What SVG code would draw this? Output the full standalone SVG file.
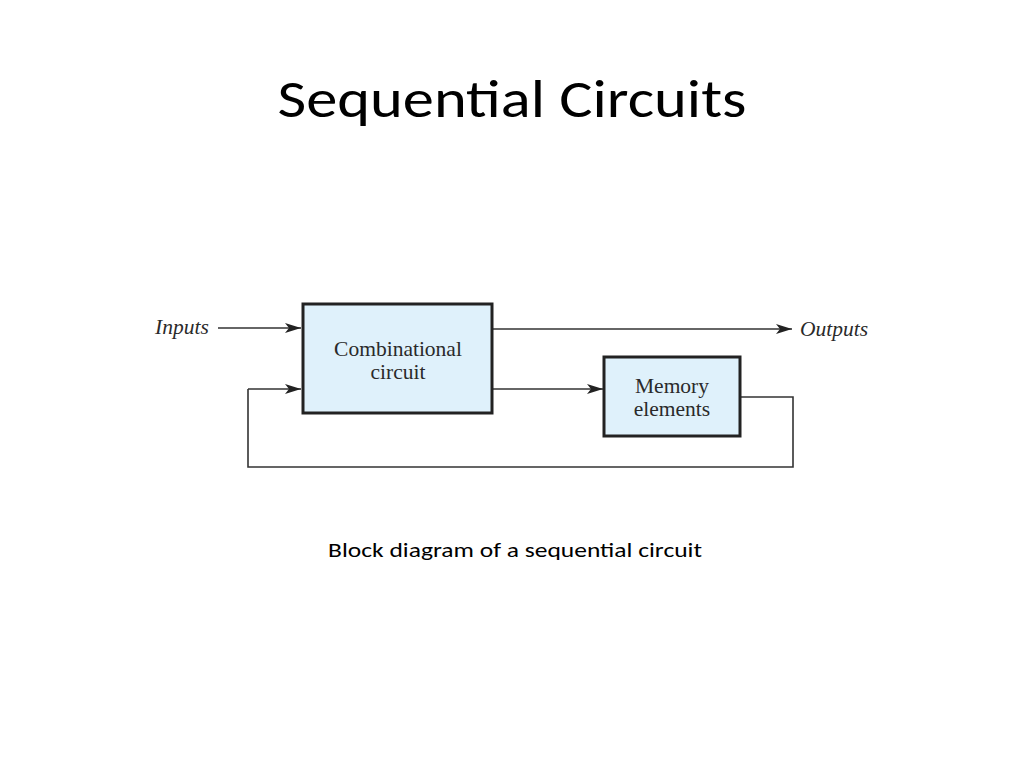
<svg xmlns="http://www.w3.org/2000/svg" width="1024" height="768" viewBox="0 0 1024 768">
<defs>
<style>
.box{fill:#dff1fb;stroke:#222;stroke-width:3}
.wire{fill:none;stroke:#333;stroke-width:1.6}
.lbl{font-family:"Liberation Serif","Times New Roman",serif;font-size:21.5px;fill:#2a2a2a;text-anchor:middle}
.io{font-family:"Liberation Serif","Times New Roman",serif;font-size:21.5px;font-style:italic;fill:#2a2a2a}
</style>
<marker id="arr" viewBox="0 0 16 10" refX="16" refY="5" markerWidth="16" markerHeight="10" markerUnits="userSpaceOnUse" orient="auto">
<path d="M0,0 L16,5 L0,10 L4,5 Z" fill="#222"/>
</marker>
</defs>
<rect width="1024" height="768" fill="#fff"/>
<text x="512" y="117" font-family="Carlito,'Liberation Sans',Arial,sans-serif" font-size="54" text-anchor="middle" textLength="469" lengthAdjust="spacingAndGlyphs" fill="#000">Sequential Circuits</text>
<g id="connectors">
<line class="wire" x1="218" y1="328" x2="301" y2="328" marker-end="url(#arr)"/>
<polyline class="wire" points="248,389 248,467 793,467 793,397 740,397"/>
<line class="wire" x1="248" y1="389" x2="301" y2="389" marker-end="url(#arr)"/>
<line class="wire" x1="492" y1="329" x2="792" y2="329" marker-end="url(#arr)"/>
<line class="wire" x1="492" y1="389" x2="603" y2="389" marker-end="url(#arr)"/>
</g>
<g id="inputs"><text class="io" x="155" y="334">Inputs</text></g>
<g id="outputs"><text class="io" x="800" y="336">Outputs</text></g>
<g id="combinational">
<rect class="box" x="303" y="304" width="189" height="109"/>
<text class="lbl" x="398" y="356">Combinational</text>
<text class="lbl" x="398" y="379">circuit</text>
</g>
<g id="memory">
<rect class="box" x="604" y="357" width="136" height="79"/>
<text class="lbl" x="672" y="393">Memory</text>
<text class="lbl" x="672" y="416">elements</text>
</g>
<text x="515" y="557" font-family="Carlito,'Liberation Sans',Arial,sans-serif" font-size="20" text-anchor="middle" textLength="374" lengthAdjust="spacingAndGlyphs" fill="#000">Block diagram of a sequential circuit</text>
</svg>
